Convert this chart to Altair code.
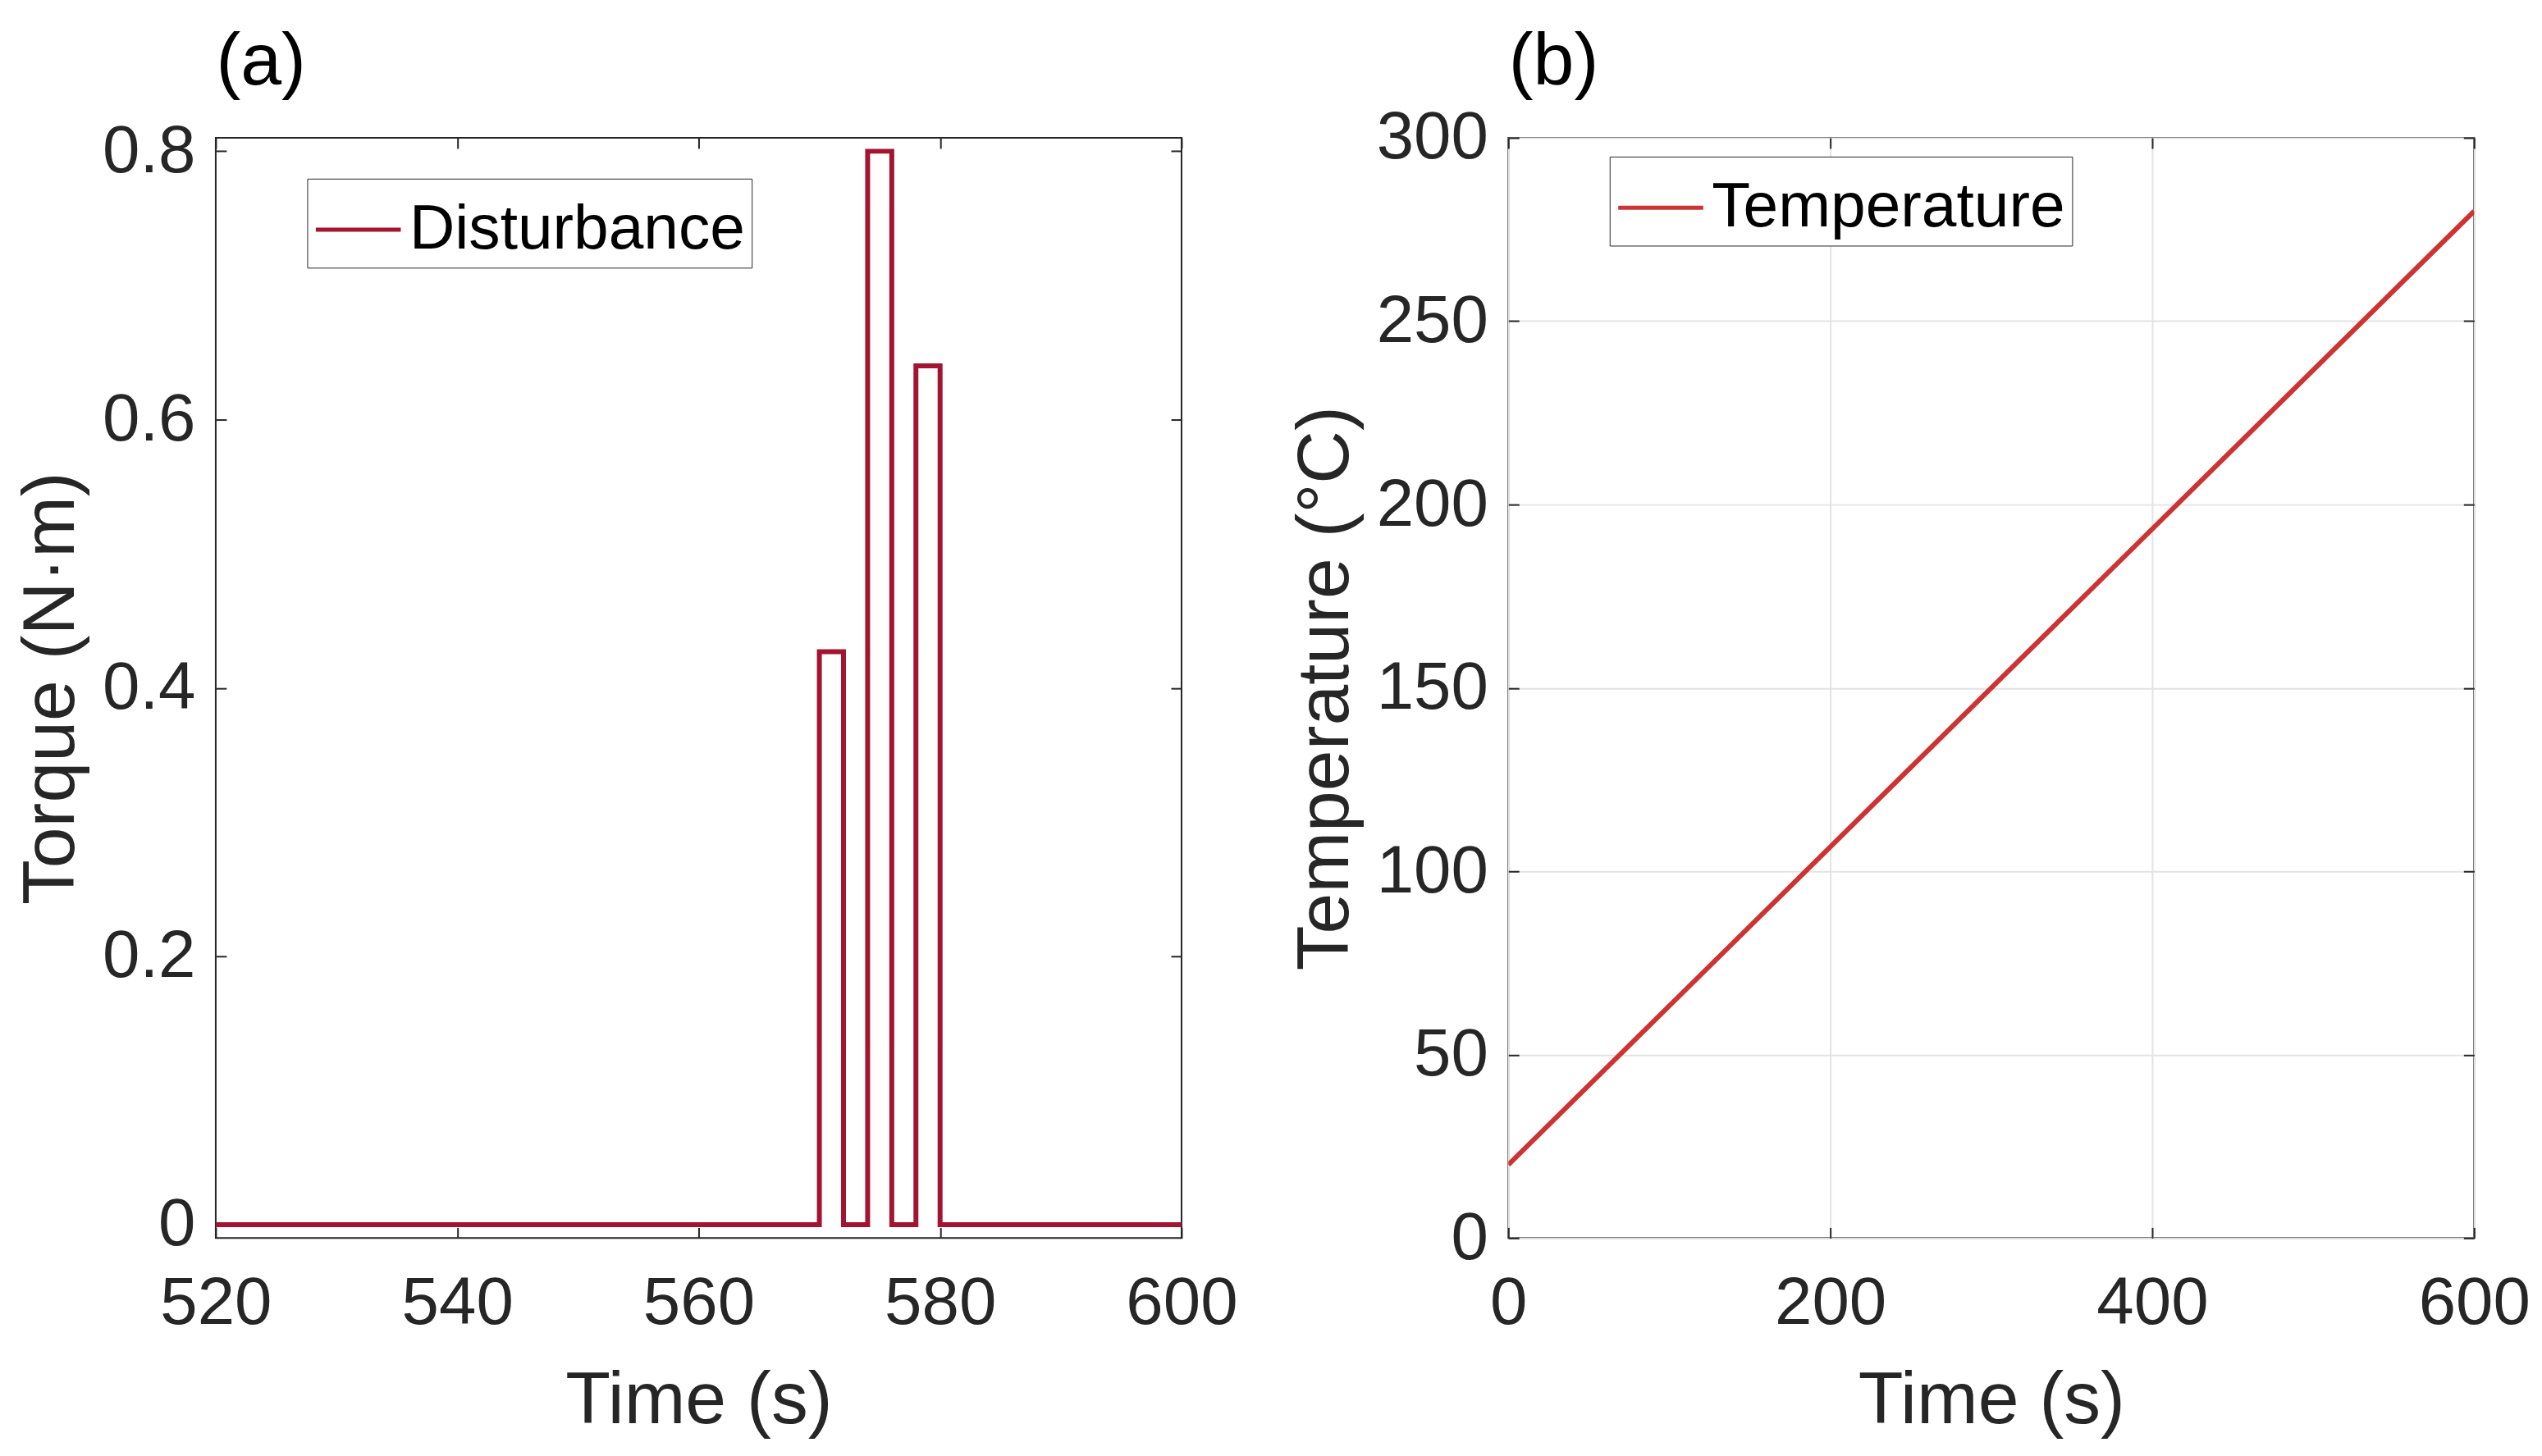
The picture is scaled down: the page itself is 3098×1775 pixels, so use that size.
import altair as alt
import pandas as pd

# ---- Panel (a): disturbance torque ----
dist_time = [520, 570, 572, 574, 576, 578, 580, 600]
dist_torque = [0, 0.427, 0, 0.8, 0, 0.64, 0, 0]
a_xticks = [520, 540, 560, 580, 600]
a_yticks = [0, 0.2, 0.4, 0.6, 0.8]

# ---- Panel (b): temperature ----
temp_time = [0, 600]
temp_value = [20, 280]
b_xticks = [0, 200, 400, 600]
b_yticks = [0, 50, 100, 150, 200, 250, 300]

FONT = "Liberation Sans"
TXT = "#262626"
W, H = 1182, 1347
TICK = 13
GRID = "#e3e3e3"
LABEL_EXPR = "'' + datum.value"


def axis_main(values, orient, grid, lpad, tpad):
    return alt.Axis(values=values, orient=orient, offset=-TICK,
                    tickSize=TICK, tickWidth=2, tickColor=TXT, domain=False,
                    grid=grid, gridColor=GRID, gridWidth=2,
                    labelFont=FONT, labelFontSize=82, labelColor=TXT,
                    titleFont=FONT, titleFontSize=90, titleColor=TXT,
                    titleFontWeight="normal", labelPadding=lpad, titlePadding=tpad,
                    labelFlush=False, labelOverlap=False, labelLimit=1000,
                    labelExpr=LABEL_EXPR)


def axis_top(values):
    return alt.Axis(values=values, orient="top", offset=-TICK, tickSize=TICK,
                    tickWidth=2, tickColor=TXT, domain=False, grid=False,
                    labels=False, titleAnchor="start", titleAlign="left",
                    titleX=0, titleY=-79, titleBaseline="alphabetic", titleAngle=0,
                    titleFont=FONT, titleFontSize=90, titleFontWeight="normal",
                    titleColor="black")


def axis_right(values):
    return alt.Axis(values=values, orient="right", offset=-TICK, tickSize=TICK,
                    tickWidth=2, tickColor=TXT, domain=False, grid=False,
                    labels=False)


def panel(df, xdom, ydom, xt, yt, ytitle, name, color, tag, lx, ly, grid, interp):
    base = alt.Chart(df)
    xs = alt.Scale(domain=xdom, nice=False, zero=False)
    ys = alt.Scale(domain=ydom, nice=False, zero=False)
    main = base.mark_line(strokeWidth=6, interpolate=interp, clip=True).encode(
        x=alt.X("t:Q", title="Time (s)", scale=xs,
                axis=axis_main(xt, "bottom", grid, 40, 34)),
        y=alt.Y("v:Q", title=ytitle, scale=ys,
                axis=axis_main(yt, "left", grid, 25, 16)),
        color=alt.Color("s:N", scale=alt.Scale(domain=[name], range=[color]),
                        legend=alt.Legend(orient="none", legendX=lx, legendY=ly,
                                          title=None, symbolType="stroke",
                                          symbolSize=10816, symbolStrokeWidth=5,
                                          labelFont=FONT, labelFontSize=77,
                                          labelColor="black", strokeColor=TXT,
                                          fillColor="white", padding=8,
                                          labelOffset=8, labelLimit=1000)),
    )
    mirror = base.mark_line(strokeOpacity=0).encode(
        x=alt.X("t:Q", title=tag, scale=xs, axis=axis_top(xt)),
        y=alt.Y("v:Q", title=None, scale=ys, axis=axis_right(yt)),
    )
    return alt.layer(main, mirror).resolve_axis(
        x="independent", y="independent").properties(width=W, height=H)


df_a = pd.DataFrame({"t": dist_time, "v": dist_torque, "s": "Disturbance"})
df_b = pd.DataFrame({"t": temp_time, "v": temp_value, "s": "Temperature"})

pa = panel(df_a, [520, 600], [-0.01, 0.81], a_xticks, a_yticks, "Torque (N·m)",
           "Disturbance", "#A2142F", "(a)", 112, 50, False, "step-after")
pb = panel(df_b, [0, 600], [0, 300], b_xticks, b_yticks, "Temperature (°C)",
           "Temperature", "#CD3333", "(b)", 124, 23, True, "linear")

chart = alt.hconcat(pa, pb, spacing=60).resolve_scale(color="independent").configure_view(
    stroke=TXT, strokeWidth=2
).properties(padding={"left": 9, "top": 18, "right": 5, "bottom": 0}, background="white")

chart.save("out.html", embed_options={"renderer": "svg", "actions": False})
